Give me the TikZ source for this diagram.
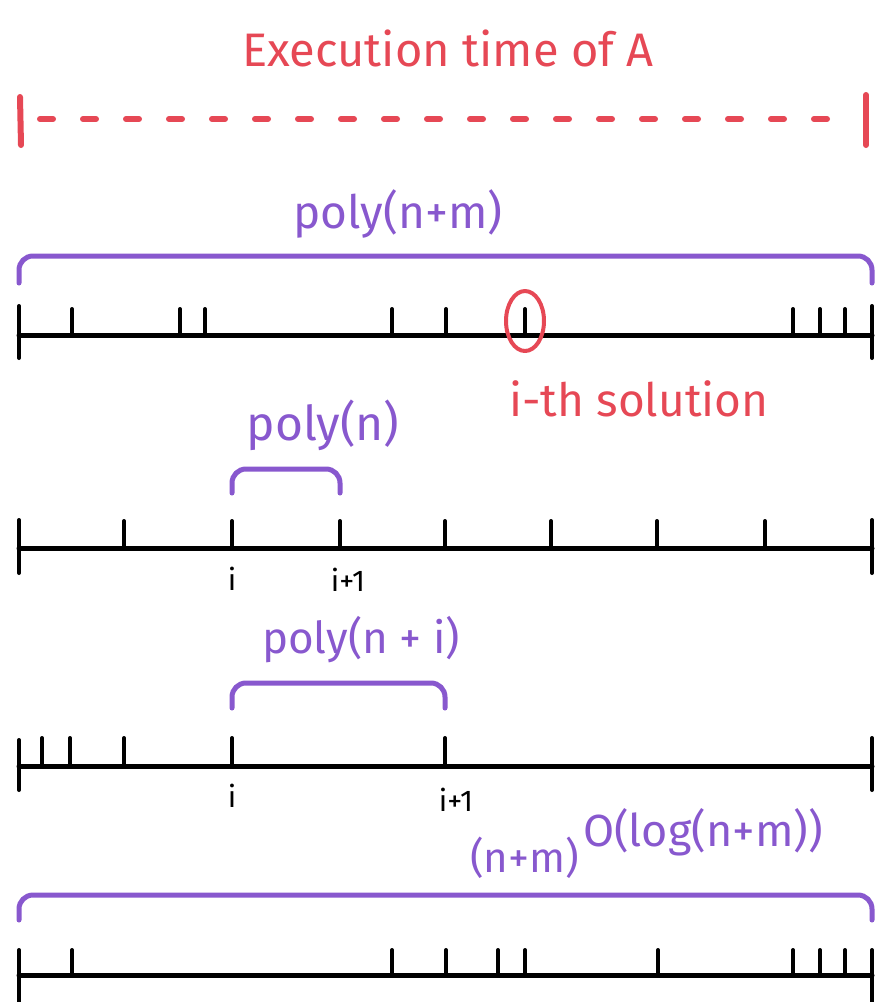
\documentclass[tikz,border=0pt]{standalone}
\usepackage{fontspec}
\setmainfont{Fira Sans}
\definecolor{hred}{RGB}{230,72,85}
\definecolor{hpurple}{RGB}{136,88,206}
\begin{document}
\begin{tikzpicture}[x=1pt,y=-1pt,line cap=round,line join=round,
  axisline/.style={line width=5pt,black},
  tick/.style={line width=4pt,black},
  brace/.style={line width=5pt,hpurple,rounded corners=14pt},
  plabel/.style={text=hpurple,font=\fontsize{44}{48}\selectfont,inner sep=0pt},
  rlabel/.style={text=hred,font=\fontsize{46}{50}\selectfont,inner sep=0pt},
  klabel/.style={text=black,font=\fontsize{30}{34}\selectfont,inner sep=0pt}]
\useasboundingbox (0,0) rectangle (875,1002);
% title
\node[text=hred,font=\fontsize{47}{52}\selectfont,inner sep=0pt] (title) at (448,48) {Execution time of A};
\draw[hred,line width=6pt] (20,97) -- (21,145);
\draw[hred,line width=6pt] (866,95) -- (866,145);
\draw[hred,line width=6pt,dash pattern=on 13pt off 30pt] (40,119) -- (850,119);
% timeline 1
\node[plabel,font=\fontsize{46}{50}\selectfont] (p1) at (398,214) {poly(n+m)};
\draw[brace] (19,283) -- (19,256) -- (872,256) -- (872,283);
\draw[axisline] (19,335) -- (872,335);
\draw[tick] (19,306) -- (19,358);
\draw[tick] (872,306) -- (872,358);
\foreach \x in {72,180,205,392,446,525,793,820,845} \draw[tick] (\x,309) -- (\x,335);
\draw[hred,line width=4pt] (525,321) ellipse [x radius=19pt,y radius=30pt];
\node[rlabel] (sol) at (639,399) {i-th solution};
% timeline 2
\node[plabel,font=\fontsize{48}{52}\selectfont] (p2) at (323,425) {poly(n)};
\draw[brace] (232,493) -- (232,469) -- (340,469) -- (340,493);
\draw[axisline] (19,548) -- (872,548);
\draw[tick] (19,520) -- (19,573);
\draw[tick] (872,520) -- (872,573);
\foreach \x in {124,232,340,445,551,657,765} \draw[tick] (\x,521) -- (\x,548);
\node[klabel] (i2) at (232,579) {i};
\node[klabel] (j2) at (348,580) {i+1};
% timeline 3
\node[plabel] (p3) at (361,640) {poly(n + i)};
\draw[brace] (232,708) -- (232,683) -- (445,683) -- (445,708);
\draw[axisline] (19,766) -- (872,766);
\draw[tick] (19,740) -- (19,790);
\draw[tick] (872,738) -- (872,790);
\foreach \x in {42,70,124,232,445} \draw[tick] (\x,738) -- (\x,766);
\node[klabel] (i3) at (232,796) {i};
\node[klabel] (j3) at (456,800) {i+1};
% timeline 4
\node[plabel,anchor=west,font=\fontsize{42}{46}\selectfont] (p4) at (470,858) {(n+m)};
\node[plabel,anchor=west,font=\fontsize{45}{50}\selectfont] (e4) at (583,832) {O(log(n+m))};
\draw[brace] (19,920) -- (19,895) -- (872,895) -- (872,920);
\draw[axisline] (19,975) -- (872,975);
\draw[tick] (19,950) -- (19,1002);
\draw[tick] (872,950) -- (872,1002);
\foreach \x in {72,392,446,498,525,658,793,820,845} \draw[tick] (\x,950) -- (\x,975);
\end{tikzpicture}
\end{document}
